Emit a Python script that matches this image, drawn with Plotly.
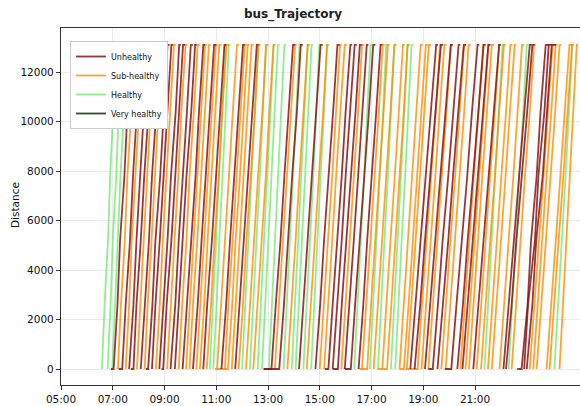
import plotly.graph_objects as go

# distance knots along the route (m)
DIST = [0, 2600, 5200, 7800, 10400, 13100]

CATEGORIES = ["Unhealthy", "Sub-healthy", "Healthy", "Very healthy"]
CODES = {"U": "Unhealthy", "S": "Sub-healthy", "H": "Healthy", "V": "Very healthy"}
COLORS = {
    "Unhealthy": "rgba(135,20,20,0.85)",
    "Sub-healthy": "rgba(255,140,0,0.8)",
    "Healthy": "rgba(125,235,125,0.85)",
    "Very healthy": "rgba(30,75,25,0.95)",
}

# trip: category, departure "HH:MM", wait at origin (min), segment run times (min), dwell at terminus (min)
TRIPS = [
    ("H", "06:35", 0, [6, 8, 5, 7, 7], 4),
    ("H", "06:48", 0, [7, 5, 8, 6, 7], 4),
    ("H", "06:59", 0, [6, 7, 6, 8, 6], 4),
    ("U", "07:02", 6, [9, 6, 10, 7, 10], 5),
    ("S", "07:12", 0, [7, 9, 6, 9, 8], 5),
    ("U", "07:22", 8, [8, 10, 7, 9, 9], 4),
    ("S", "07:30", 0, [8, 6, 9, 8, 8], 5),
    ("U", "07:38", 0, [10, 7, 9, 8, 9], 4),
    ("U", "07:48", 6, [7, 10, 8, 10, 8], 5),
    ("S", "07:56", 0, [8, 8, 7, 9, 8], 4),
    ("U", "08:05", 0, [9, 10, 7, 10, 8], 5),
    ("S", "08:14", 0, [7, 9, 8, 7, 9], 4),
    ("U", "08:22", 5, [10, 7, 11, 8, 9], 5),
    ("U", "08:31", 0, [8, 10, 9, 10, 8], 4),
    ("S", "08:40", 0, [9, 7, 9, 8, 9], 5),
    ("U", "08:48", 0, [10, 9, 8, 11, 8], 4),
    ("U", "08:57", 4, [8, 11, 9, 8, 10], 5),
    ("S", "09:06", 0, [9, 8, 9, 7, 10], 4),
    ("U", "09:14", 0, [11, 8, 10, 9, 9], 5),
    ("U", "09:24", 0, [9, 10, 8, 11, 9], 4),
    ("S", "09:33", 0, [8, 10, 7, 10, 9], 5),
    ("U", "09:42", 0, [10, 9, 11, 8, 10], 4),
    ("S", "09:50", 0, [9, 8, 10, 9, 8], 5),
    ("S", "09:58", 0, [8, 10, 9, 8, 10], 4),
    ("U", "10:06", 0, [11, 9, 10, 10, 9], 5),
    ("S", "10:14", 0, [9, 9, 8, 10, 9], 4),
    ("S", "10:22", 0, [10, 8, 9, 9, 9], 5),
    ("U", "10:30", 0, [9, 11, 9, 10, 10], 4),
    ("S", "10:38", 0, [10, 8, 10, 8, 10], 5),
    ("H", "10:45", 0, [7, 8, 6, 8, 7], 4),
    ("H", "10:53", 0, [8, 6, 8, 7, 7], 4),
    ("S", "11:02", 0, [9, 10, 8, 10, 9], 5),
    ("U", "11:12", 0, [11, 9, 10, 9, 11], 4),
    ("S", "11:20", 0, [8, 10, 9, 9, 10], 5),
    ("S", "11:27", 30, [10, 8, 10, 9, 9], 4),
    ("S", "11:36", 0, [9, 9, 10, 8, 10], 5),
    ("U", "11:44", 0, [10, 11, 9, 10, 10], 4),
    ("S", "11:52", 0, [10, 8, 10, 10, 8], 5),
    ("H", "12:00", 0, [7, 8, 7, 7, 8], 4),
    ("S", "12:09", 0, [9, 10, 9, 10, 9], 5),
    ("H", "12:18", 0, [8, 7, 8, 7, 7], 4),
    ("S", "12:26", 0, [10, 9, 10, 8, 10], 4),
    ("H", "12:36", 0, [7, 8, 7, 8, 7], 4),
    ("H", "12:46", 0, [8, 7, 7, 8, 7], 4),
    ("H", "13:02", 0, [7, 7, 8, 7, 7], 4),
    ("U", "13:08", 18, [10, 11, 9, 10, 10], 5),
    ("S", "13:16", 0, [9, 10, 9, 9, 10], 4),
    ("U", "13:26", 36, [11, 9, 10, 11, 9], 5),
    ("H", "13:36", 0, [7, 8, 7, 7, 8], 4),
    ("S", "13:45", 0, [10, 9, 9, 10, 9], 5),
    ("H", "13:55", 0, [8, 7, 7, 8, 7], 4),
    ("H", "14:04", 0, [7, 8, 7, 7, 8], 4),
    ("U", "14:12", 0, [10, 11, 9, 10, 10], 5),
    ("H", "14:22", 0, [8, 7, 8, 7, 7], 4),
    ("S", "14:30", 0, [9, 10, 9, 10, 9], 4),
    ("H", "14:40", 0, [7, 8, 7, 8, 7], 4),
    ("U", "14:50", 0, [11, 9, 11, 10, 10], 5),
    ("S", "15:00", 0, [9, 10, 10, 9, 9], 4),
    ("S", "15:10", 0, [10, 9, 9, 10, 10], 5),
    ("U", "15:20", 8, [10, 11, 10, 9, 11], 4),
    ("U", "15:30", 0, [11, 10, 9, 11, 10], 5),
    ("U", "15:42", 12, [9, 11, 10, 11, 10], 4),
    ("S", "15:50", 0, [10, 9, 10, 10, 9], 5),
    ("U", "15:58", 0, [11, 10, 10, 9, 11], 4),
    ("U", "16:12", 14, [10, 11, 10, 11, 10], 5),
    ("H", "16:20", 0, [8, 7, 8, 7, 8], 4),
    ("U", "16:30", 0, [11, 9, 11, 10, 10], 4),
    ("S", "16:38", 0, [10, 10, 9, 10, 9], 5),
    ("S", "16:50", 18, [9, 10, 10, 9, 10], 4),
    ("H", "16:56", 0, [8, 8, 7, 8, 7], 4),
    ("S", "17:05", 0, [10, 9, 10, 10, 9], 5),
    ("H", "17:15", 0, [7, 8, 8, 7, 8], 4),
    ("S", "17:25", 0, [9, 10, 10, 9, 10], 4),
    ("S", "17:36", 22, [10, 9, 10, 10, 9], 5),
    ("H", "17:45", 0, [8, 7, 8, 8, 7], 4),
    ("H", "17:55", 0, [7, 8, 8, 7, 8], 4),
    ("S", "18:05", 0, [10, 10, 9, 10, 10], 5),
    ("S", "18:15", 10, [11, 10, 10, 10, 10], 4),
    ("S", "18:22", 0, [10, 11, 10, 10, 10], 5),
    ("U", "18:30", 0, [12, 12, 11, 13, 12], 4),
    ("U", "18:40", 0, [13, 11, 12, 12, 13], 5),
    ("S", "18:47", 28, [10, 11, 10, 11, 10], 4),
    ("S", "18:56", 0, [11, 10, 11, 10, 11], 5),
    ("U", "19:04", 0, [12, 13, 11, 12, 12], 4),
    ("S", "19:12", 0, [10, 11, 10, 11, 10], 5),
    ("U", "19:22", 10, [12, 11, 13, 12, 12], 4),
    ("U", "19:33", 0, [13, 12, 11, 13, 12], 5),
    ("S", "19:42", 0, [10, 11, 11, 10, 11], 4),
    ("S", "19:52", 0, [11, 10, 11, 11, 10], 5),
    ("U", "20:05", 15, [12, 13, 12, 11, 13], 4),
    ("U", "20:19", 0, [13, 11, 13, 12, 12], 5),
    ("S", "20:26", 0, [11, 10, 10, 11, 11], 4),
    ("U", "20:31", 0, [12, 13, 11, 12, 12], 5),
    ("S", "20:38", 0, [10, 11, 11, 10, 11], 4),
    ("S", "20:46", 0, [11, 10, 10, 11, 11], 5),
    ("U", "20:56", 0, [12, 12, 13, 11, 12], 4),
    ("S", "21:04", 0, [10, 11, 10, 11, 10], 5),
    ("S", "21:14", 0, [11, 10, 11, 10, 11], 4),
    ("H", "21:22", 0, [8, 9, 8, 8, 9], 4),
    ("S", "21:30", 0, [10, 11, 10, 11, 10], 5),
    ("S", "21:39", 0, [11, 10, 11, 10, 11], 4),
    ("S", "21:57", 0, [10, 11, 11, 10, 10], 5),
    ("U", "22:06", 0, [12, 13, 11, 13, 12], 4),
    ("U", "22:12", 0, [13, 11, 13, 12, 12], 5),
    ("H", "22:18", 0, [8, 9, 8, 9, 8], 4),
    ("S", "22:25", 0, [10, 11, 10, 11, 10], 4),
    ("U", "22:48", 10, [14, 8, 13, 9, 12], 8),
    ("U", "22:54", 0, [9, 16, 8, 14, 10], 6),
    ("U", "23:00", 0, [13, 9, 15, 10, 11], 10),
    ("S", "23:07", 0, [11, 10, 11, 10, 11], 4),
    ("S", "23:15", 0, [10, 11, 10, 11, 10], 5),
    ("S", "23:23", 0, [11, 10, 11, 11, 10], 4),
    ("S", "23:46", 0, [11, 11, 10, 10, 11], 5),
    ("S", "23:53", 0, [10, 11, 11, 10, 10], 4),
    ("H", "24:04", 0, [9, 8, 9, 8, 8], 4),
    ("S", "24:16", 0, [8, 8, 8, 8, 8], 3),
]

X_TICKS = [5, 7, 9, 11, 13, 15, 17, 19, 21]
X_TICK_TEXT = ["05:00", "07:00", "09:00", "11:00", "13:00", "15:00", "17:00", "19:00", "21:00"]
Y_TICKS = [0, 2000, 4000, 6000, 8000, 10000, 12000]


def to_hours(hhmm):
    h, m = hhmm.split(":")
    return int(h) + int(m) / 60.0


series = {c: ([], []) for c in CATEGORIES}
for code, dep, wait, runs, dwell in TRIPS:
    xs, ys = series[CODES[code]]
    t = to_hours(dep)
    if wait:
        xs.append(t - wait / 60.0)
        ys.append(DIST[0])
    xs.append(t)
    ys.append(DIST[0])
    for d, r in zip(DIST[1:], runs):
        t += r / 60.0
        xs.append(t)
        ys.append(d)
    xs.append(t + dwell / 60.0)
    ys.append(DIST[-1])
    xs.append(None)
    ys.append(None)

fig = go.Figure()
draw_order = ["Healthy", "Very healthy", "Sub-healthy", "Unhealthy"]
for c in draw_order:
    xs, ys = series[c]
    fig.add_trace(go.Scatter(
        x=xs if xs else [None], y=ys if ys else [None], mode="lines", name=c,
        line=dict(color=COLORS[c], width=1.8),
        legendrank=CATEGORIES.index(c) + 1,
        connectgaps=False,
        hoverinfo="skip",
    ))

fig.update_layout(
    width=580, height=406,
    margin=dict(l=61, r=0, t=28, b=21),
    paper_bgcolor="white", plot_bgcolor="white",
    font=dict(family="DejaVu Sans", size=11, color="#111"),
    title=dict(text="<b>bus_Trajectory</b>", x=293 / 580, xanchor="center",
               y=1 - 14 / 406, yanchor="middle",
               font=dict(size=12, color="#222")),
    showlegend=True,
    legend=dict(
        x=(70 - 61) / 519, y=(385 - 41) / 357, xanchor="left", yanchor="top",
        bgcolor="white", bordercolor="#cccccc", borderwidth=1,
        font=dict(size=8, color="#111"), itemwidth=30, tracegroupgap=0,
    ),
    annotations=[dict(
        text="Distance", textangle=-90, xref="paper", yref="paper",
        x=(15 - 61) / 519, y=(385 - 205) / 357, xanchor="center", yanchor="middle",
        showarrow=False, font=dict(size=10.5, color="#111"),
    )],
)
fig.update_xaxes(
    range=[5, 5 + 519 / 25.875], tickvals=X_TICKS, ticktext=X_TICK_TEXT,
    showgrid=True, gridcolor="#ebebeb", gridwidth=1,
    showline=True, linecolor="#333", linewidth=1.2, mirror=True,
    ticks="outside", ticklen=4, tickcolor="#333",
    tickfont=dict(size=10.5, color="#111"),
    zeroline=False,
)
fig.update_yaxes(
    range=[-646, 13778], tickvals=Y_TICKS, tickformat="d",
    showgrid=True, gridcolor="#ebebeb", gridwidth=1,
    showline=True, linecolor="#333", linewidth=1.2,
    ticks="outside", ticklen=4, tickcolor="#333",
    tickfont=dict(size=10.5, color="#111"),
    zeroline=False,
)

fig.write_html("out.html")
